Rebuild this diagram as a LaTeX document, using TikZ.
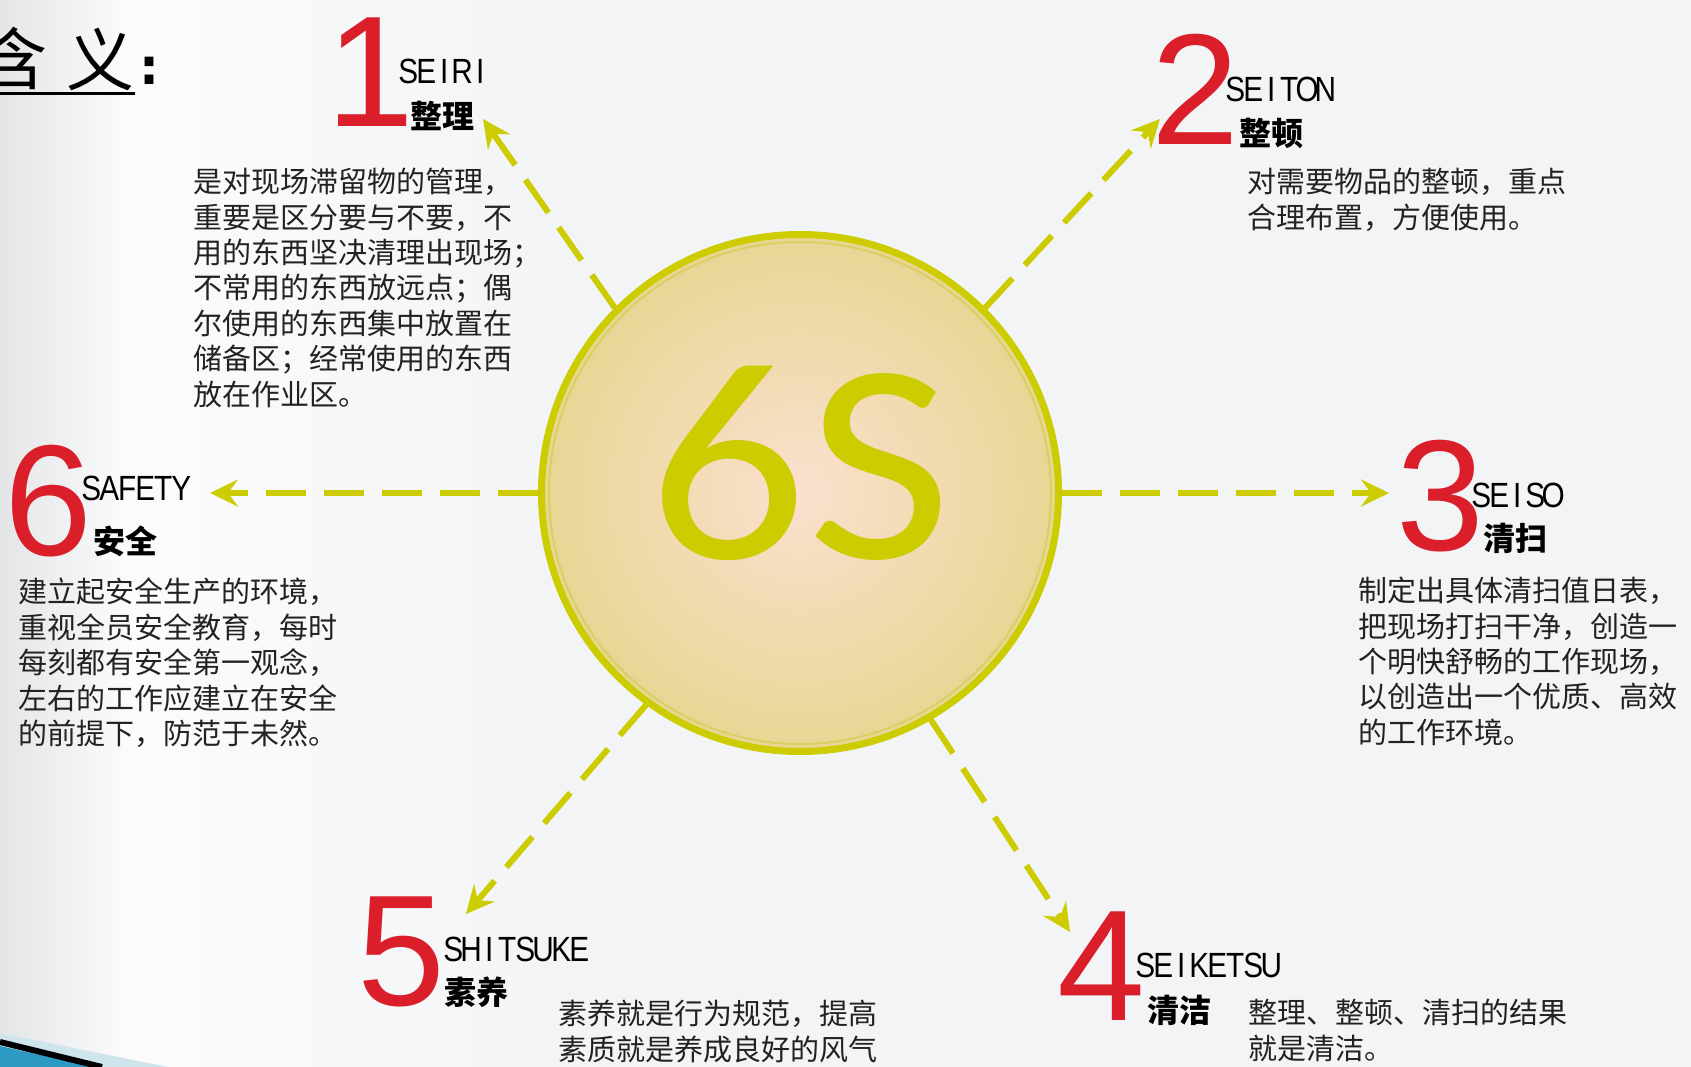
\documentclass[tikz,border=0pt]{standalone}
\usepackage{fontspec}
\usetikzlibrary{arrows.meta}
\newfontfamily\cjk{Noto Sans CJK SC}
\newfontfamily\digitfont{Liberation Sans}
\newfontfamily\latfont[FakeStretch=0.85]{Liberation Sans}
\newfontfamily\bigfont[FakeStretch=1.1]{Carlito}
\newfontfamily\colonfont{DejaVu Sans}
\definecolor{bgc}{HTML}{F3F4F6}
\definecolor{arrowc}{HTML}{CCCC00}
\definecolor{ringc}{HTML}{D8D060}
\definecolor{numred}{HTML}{DA1F2B}
\definecolor{descc}{HTML}{222222}
\definecolor{fillin}{HTML}{FAE0CF}
\definecolor{fillout}{HTML}{E8D694}
\definecolor{swblue}{HTML}{2C9AC2}
\definecolor{swlight}{HTML}{CFE5EE}
\newlength\monow
\setlength\monow{18pt}
\def\monoloop#1{\ifx#1\relax\else\makebox[\monow]{#1}\expandafter\monoloop\fi}
\newcommand\monotext[1]{\monoloop#1\relax}
\tikzset{
  num/.style={font=\digitfont\fontsize{158}{160}\selectfont, text=numred, anchor=base, inner sep=0pt},
  lat/.style={font=\latfont\fontsize{35}{40}\selectfont, text=black, anchor=base west, inner sep=0pt},
  zh/.style={font=\cjk\bfseries\fontsize{32}{36}\selectfont, text=black, anchor=west, inner sep=0pt},
  desc/.style={font=\cjk\fontsize{29}{35.4}\selectfont, text=descc, align=left, anchor=north west, inner sep=0pt},
  dasharrow/.style={draw=arrowc, line width=6pt, dash pattern=on 40pt off 18pt,
    -{Stealth[length=28pt, width=27pt, inset=10pt]}},
}
\begin{document}
\begin{tikzpicture}[x=1pt, y=-1pt]
\useasboundingbox (0,0) rectangle (1691,1067);
\clip (0,0) rectangle (1691,1067);
% background
\fill[bgc] (0,0) rectangle (1691,1067);
\shade[left color=black!6!bgc, right color=white!70!bgc] (0,0) rectangle (130,1067);
\shade[left color=white!70!bgc, right color=bgc] (130,0) rectangle (560,1067);
% bottom-left swoosh
\fill[swlight] (0,1033) -- (168,1067) -- (0,1067) -- cycle;
\fill[swblue] (0,1046) -- (95,1067) -- (0,1067) -- cycle;
\draw[black, line width=6pt] (0,1042) -- (102,1067);

% title
\node[font=\cjk\fontsize{68}{70}\selectfont, inner sep=0pt] (han) at (14,58) {含};
\node[font=\cjk\fontsize{68}{70}\selectfont, inner sep=0pt] (yi) at (100,59) {义};
\node[font=\colonfont\bfseries\fontsize{50}{52}\selectfont, inner sep=0pt] (colon) at (149,71) {:};
\coordinate (ul1) at (0,94);
\coordinate (ul2) at (135,94);
\draw[line width=3pt] (ul1) -- (ul2);

% central circle
\node[circle, minimum size=517pt, inner sep=0pt, draw=arrowc, line width=7pt,
      inner color=fillin, outer color=fillout] (c) at (800,493) {};
\draw[ringc, line width=2pt] (c.center) circle (251pt);
\node[font=\bigfont\fontsize{285}{285}\selectfont, text=arrowc, anchor=base, inner sep=0pt] (six) at (800,558) {6S};

% tips
\coordinate (t1) at (483,119);
\coordinate (t2) at (1160,119);
\coordinate (t3) at (1389,493);
\coordinate (t4) at (1070,932);
\coordinate (t5) at (466,914);
\coordinate (t6) at (210,493);
\draw[dasharrow] (c.135) -- (t1);
\draw[dasharrow] (c.45) -- (t2);
\draw[dasharrow] (c.0) -- (t3);
\draw[dasharrow] (c.-60) -- (t4);
\draw[dasharrow] (c.-126) -- (t5);
\draw[dasharrow] (c.180) -- (t6);

% 1 SEIRI
\node[num] (n1) at (370,127) {1};
\node[lat] (l1) at (399,84) {\monotext{SEIRI}};
\node[zh] (z1) at (410,116) {整理};
\node[desc] (d1) at (193,168) {是对现场滞留物的管理，\\重要是区分要与不要，不\\用的东西坚决清理出现场；\\不常用的东西放远点；偶\\尔使用的东西集中放置在\\储备区；经常使用的东西\\放在作业区。};

% 2 SEITON
\node[num] (n2) at (1195,145) {2};
\node[lat] (l2) at (1226,102) {\monotext{SEITON}};
\node[zh] (z2) at (1239,134) {整顿};
\node[desc] (d2) at (1247,168) {对需要物品的整顿，重点\\合理布置，方便使用。};

% 3 SEISO
\node[num] (n3) at (1440,550) {3};
\node[lat] (l3) at (1472,507) {\monotext{SEISO}};
\node[zh] (z3) at (1483,538) {清扫};
\node[desc] (d3) at (1358,577) {制定出具体清扫值日表，\\把现场打扫干净，创造一\\个明快舒畅的工作现场，\\以创造出一个优质、高效\\的工作环境。};

% 4 SEIKETSU
\node[num] (n4) at (1101,1020) {4};
\node[lat] (l4) at (1136,977) {\monotext{SEIKETSU}};
\node[zh] (z4) at (1147,1010) {清洁};
\node[desc] (d4) at (1248,999) {整理、整顿、清扫的结果\\就是清洁。};

% 5 SHITSUKE
\node[num] (n5) at (401,1005) {5};
\node[lat] (l5) at (444,961) {\monotext{SHITSUKE}};
\node[zh] (z5) at (444,992) {素养};
\node[desc] (d5) at (558,1000) {素养就是行为规范，提高\\素质就是养成良好的风气};

% 6 SAFETY
\node[num] (n6) at (48,555) {6};
\node[lat] (l6) at (82,500) {\monotext{SAFETY}};
\node[zh] (z6) at (93,541) {安全};
\node[desc] (d6) at (18,578) {建立起安全生产的环境，\\重视全员安全教育，每时\\每刻都有安全第一观念，\\左右的工作应建立在安全\\的前提下，防范于未然。};
\end{tikzpicture}
\end{document}
